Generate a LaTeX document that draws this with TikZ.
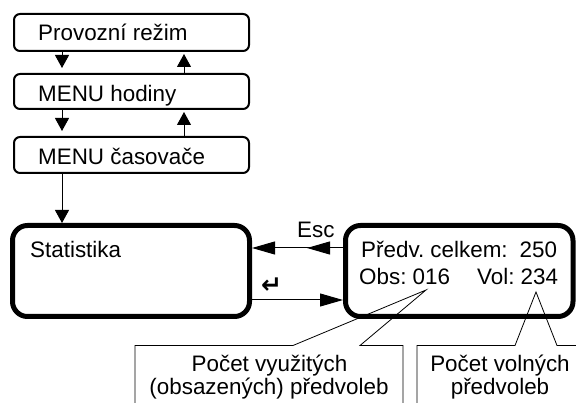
\documentclass[tikz,border=0pt]{standalone}
\usepackage{fontspec}
\setmainfont{Liberation Sans}
\newfontfamily\symfont{DejaVu Sans}
\usetikzlibrary{arrows.meta}
\frenchspacing
\begin{document}
\begin{tikzpicture}[x=1pt, y=-1pt,
  font=\fontsize{22.4}{26}\selectfont,
  menubox/.style={draw, line width=2pt, rounded corners=6pt, minimum width=235pt, inner sep=0pt},
  bigbox/.style={draw, line width=5pt, rounded corners=15pt, minimum height=91pt, inner sep=0pt},
  lbl/.style={anchor=base west, inner sep=0pt},
  ctext/.style={anchor=base, inner sep=0pt},
  conn/.style={line width=1pt},
  smallhead/.style={conn, -{Triangle[length=13pt, width=14pt]}},
  longhead/.style={conn, -{Triangle[length=23pt, width=13pt]}},
  callout/.style={line width=0.8pt}
]
\useasboundingbox (0,0) rectangle (576,403);
\clip (0,0) rectangle (576,403);

% menu chain
\node[menubox, minimum height=37pt] (b1) at (131.5,32.5) {};
\node[menubox, minimum height=35pt] (b2) at (131.5,91.5) {};
\node[menubox, minimum height=36pt] (b3) at (131.5,155) {};
\node[lbl] (t1) at (38,41) {Provozní režim};
\node[lbl] (t2) at (38,102) {MENU hodiny};
\node[lbl] (t3) at (38,165) {MENU časovače};

% statistics screens
\node[bigbox, minimum width=237pt] (stat) at (131,271) {};
\node[bigbox, minimum width=227.5pt] (rb) at (459.25,271) {};
\node[lbl] (tstat) at (30,258) {Statistika};
\node[lbl] (tr1) at (361,258) {Předv. celkem:\hspace{12pt}250};
\node[lbl] (tr2) at (359,285) {Obs: 016\hspace{27pt}Vol: 234};

% arrow columns and levels
\coordinate (xl) at (62,0);
\coordinate (xr) at (184,0);
\coordinate (yesc) at (0,248);
\coordinate (yent) at (0,300);
\coordinate (escmid) at (307,248);

\draw[smallhead, shorten >=5pt] (b1.south -| xl) -- (b2.north -| xl);
\draw[smallhead, shorten >=2pt] (b2.north -| xr) -- (b1.south -| xr);
\draw[smallhead, shorten >=5pt] (b2.south -| xl) -- (b3.north -| xl);
\draw[smallhead, shorten >=2pt] (b3.north -| xr) -- (b2.south -| xr);
\draw[smallhead] (b3.south -| xl) -- (stat.north -| xl);

% Esc and Enter transitions
\draw[longhead] (rb.west |- yesc) -- (stat.east |- yesc);
\draw[longhead] (rb.west |- yesc) -- (escmid);
\draw[longhead] (stat.east |- yent) -- (rb.west |- yent);
\node[lbl] (tesc) at (297,238) {Esc};
\node[inner sep=0pt] (tent) at (271.5,285.5) {\symfont\bfseries\fontsize{25}{28}\selectfont ↵};

% callouts
\draw[callout] (135,410) -- (135,345.5) -- (293,345.5) -- (426,290) -- (360,345.5) -- (403,345.5) -- (403,410);
\draw[callout] (417,410) -- (417,345.5) -- (515,345.5) -- (536,292) -- (557,345.5) -- (580,345.5);
\node[ctext] (c1a) at (269.5,372) {Počet využitých};
\node[ctext] (c1b) at (269,395) {(obsazených) předvoleb};
\node[ctext] (c2a) at (500,372) {Počet volných};
\node[ctext] (c2b) at (500,395) {předvoleb};
\end{tikzpicture}
\end{document}
